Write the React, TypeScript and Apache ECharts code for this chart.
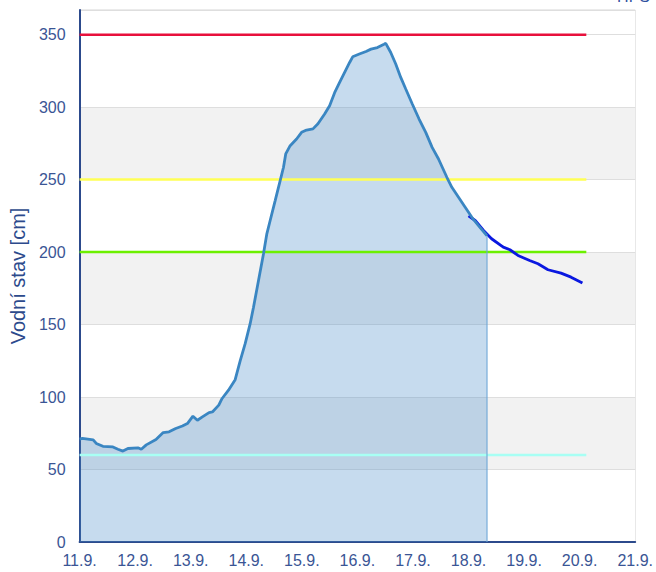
import React, { useEffect, useRef } from "react";
import * as echarts from "echarts";

// x values are days after 11.9. 00:00
const measuredDays = [0, 0.05, 0.245, 0.3, 0.42, 0.6, 0.69, 0.78, 0.87, 1.05, 1.11, 1.2, 1.375, 1.505, 1.61, 1.73, 1.85, 1.94, 2.04, 2.12, 2.21, 2.33, 2.39, 2.505, 2.565, 2.68, 2.8, 2.89, 2.98, 3.07, 3.13, 3.22, 3.31, 3.37, 3.43, 3.52, 3.61, 3.67, 3.71, 3.79, 3.905, 3.995, 4.085, 4.2, 4.29, 4.41, 4.5, 4.59, 4.68, 4.77, 4.86, 4.915, 5.035, 5.155, 5.245, 5.36, 5.48, 5.51, 5.6, 5.69, 5.78, 5.87, 5.99, 6.11, 6.23, 6.345, 6.46, 6.61, 6.7, 6.82, 6.94, 7.06, 7.18, 7.33];
const measuredValues = [71, 71.5, 70.5, 68, 66, 65.6, 64, 62.7, 64.5, 65, 64, 67, 70.7, 75.5, 76, 78.3, 80, 81.7, 86.8, 84, 86.3, 89.3, 89.7, 94.4, 99, 104.7, 112, 125, 136.8, 150.6, 162, 180.4, 198.8, 212.6, 221.8, 235.5, 249.3, 258.5, 267.7, 273.4, 278, 282.6, 284.2, 285, 288.5, 295.2, 301, 310, 317, 323.9, 330.8, 334.7, 336.6, 338.4, 340, 341.1, 343.4, 344, 337.7, 329.7, 320.5, 312.5, 302, 291.8, 282.6, 272.2, 264.2, 251.6, 244.7, 237.8, 230.9, 224, 218.3, 211.4];

const forecastDays = [7.0, 7.12, 7.27, 7.415, 7.625, 7.745, 7.89, 8.1, 8.25, 8.43, 8.665, 8.845, 9.05];
const forecastValues = [225, 221.8, 214.9, 209.2, 203.4, 201.6, 197.7, 194.2, 191.9, 187.8, 185.5, 182.7, 178.6];

const thresholdValues = [350, 250, 200, 60];
const thresholdColors = ["#e8103c", "#ffff55", "#6cf000", "#a8fff4"];
const thresholdSpan = [0, 9.12];

const xTickDays = [0, 1, 2, 3, 4, 5, 6, 7, 8, 9, 10];
const xTickLabels = ["11.9.", "12.9.", "13.9.", "14.9.", "15.9.", "16.9.", "17.9.", "18.9.", "19.9.", "20.9.", "21.9."];

const yMin = 0;
const yMax = 367;
const yInterval = 50;

const FONT = "Liberation Sans, Arial, sans-serif";
const AXIS_BLUE = "#2c4a8c";
const LABEL_BLUE = "#3a5595";

export default function App() {
  const ref = useRef<HTMLDivElement>(null);

  useEffect(() => {
    if (!ref.current) return;
    const chart = echarts.init(ref.current, undefined, { renderer: "svg" });

    const measured = measuredDays.map((d, i) => [d, measuredValues[i]]);
    const forecast = forecastDays.map((d, i) => [d, forecastValues[i]]);
    const lastDay = measuredDays[measuredDays.length - 1];
    const lastVal = measuredValues[measuredValues.length - 1];

    const thresholdSeries = thresholdValues.map((v, i) => ({
      type: "line",
      name: "t" + i,
      data: [
        [thresholdSpan[0], v],
        [thresholdSpan[1], v],
      ],
      symbol: "none",
      z: 3,
      lineStyle: { color: thresholdColors[i], width: 2.5 },
    }));

    chart.setOption({
      animation: false,
      grid: {
        left: 78,
        right: 18,
        top: 10,
        bottom: 30,
        show: true,
        borderColor: "#d6d6d6",
        borderWidth: 1,
        backgroundColor: "transparent",
      },
      xAxis: {
        type: "value",
        min: 0,
        max: 10,
        interval: 1,
        axisLine: { show: true, onZero: false, lineStyle: { color: AXIS_BLUE, width: 2 } },
        axisTick: { show: false },
        splitLine: { show: false },
        axisLabel: {
          color: LABEL_BLUE,
          fontFamily: FONT,
          fontSize: 16,
          margin: 10,
          formatter: (v: number) => {
            const idx = xTickDays.indexOf(Math.round(v));
            return idx >= 0 ? xTickLabels[idx] : "";
          },
        },
      },
      yAxis: {
        type: "value",
        min: yMin,
        max: yMax,
        interval: yInterval,
        name: "Vodní stav [cm]",
        nameLocation: "middle",
        nameGap: 50,
        nameTextStyle: { color: AXIS_BLUE, fontFamily: FONT, fontSize: 20 },
        axisLine: { show: true, lineStyle: { color: AXIS_BLUE, width: 2 } },
        axisTick: { show: false },
        axisLabel: {
          color: LABEL_BLUE,
          fontFamily: FONT,
          fontSize: 16,
          margin: 14,
          showMaxLabel: false,
        },
        splitLine: { show: true, lineStyle: { color: "#dedede", width: 1 } },
        splitArea: {
          show: true,
          areaStyle: {
            color: ["#ffffff", "#f2f2f2", "#ffffff", "#f2f2f2", "#ffffff", "#f2f2f2", "#ffffff", "#ffffff"],
          },
        },
      },
      graphic: [
        {
          type: "text",
          right: 6,
          top: -12,
          style: { text: "HPS", fill: "#3052a0", font: `16px ${FONT}` },
        },
      ],
      series: [
        {
          type: "line",
          name: "fill",
          data: measured,
          symbol: "none",
          z: 1,
          lineStyle: { width: 0 },
          areaStyle: { color: "rgb(70,140,200)", opacity: 0.31, origin: "start" },
          markLine: {
            silent: true,
            symbol: "none",
            label: { show: false },
            lineStyle: { color: "rgba(110,165,215,0.75)", width: 1.5, type: "solid" },
            data: [
              [
                { coord: [lastDay, 0] },
                { coord: [lastDay, lastVal] },
              ],
            ],
          },
        },
        ...thresholdSeries,
        {
          type: "line",
          name: "forecast",
          data: forecast,
          symbol: "none",
          z: 4,
          lineStyle: { color: "#0a18e0", width: 2.8 },
        },
        {
          type: "line",
          name: "measured",
          data: measured,
          symbol: "none",
          z: 5,
          lineStyle: { color: "#3a86c2", width: 2.8 },
        },
      ],
    });

    return () => chart.dispose();
  }, []);

  return (
    <div
      ref={ref}
      style={{ position: "absolute", left: 0, top: 0, width: 656, height: 572 }}
    />
  );
}
